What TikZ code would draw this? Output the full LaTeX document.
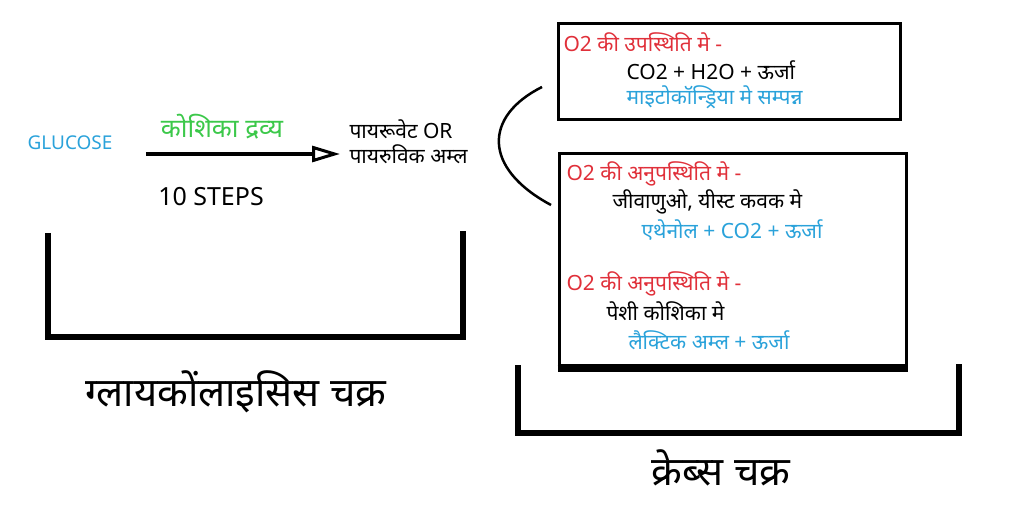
\documentclass[tikz,border=0pt]{standalone}
\usepackage{fontspec}
\setmainfont{Noto Sans}[Script=Devanagari]
\usepackage{tikz}
\usetikzlibrary{positioning,arrows.meta}
\definecolor{hred}{HTML}{E0303A}
\definecolor{hblue}{HTML}{2AA2DA}
\definecolor{hgreen}{HTML}{3CC84A}

\begin{document}
\begin{tikzpicture}[x=1pt, y=-1pt, line width=3pt,
    txt/.style={anchor=west, inner sep=0pt, font=\fontsize{21}{24}\selectfont},
    big/.style={inner sep=0pt, font=\fontsize{40}{44}\selectfont},
    cycle/.style={line width=6pt, line cap=butt},
    flow/.style={line width=3.5pt, -{Triangle[open, length=28pt, width=16pt, line width=3pt]}}]
    \useasboundingbox (0,0) rectangle (1024,510);

    % glycolysis
    \node[inner sep=0pt, text=hblue, font=\fontsize{19}{21}\selectfont] (glucose) at (70,143) {GLUCOSE};
    \node[anchor=west, inner sep=0pt, align=left, font=\fontsize{21}{25}\selectfont] (pyruvate) at (348,142) {पायरूवेट OR\\पायरुविक अम्ल};
    \node[inner sep=0pt, text=hgreen, font=\fontsize{26}{28}\selectfont] (cyto) at (222,127) {कोशिका द्रव्य};
    \node[inner sep=0pt, font=\fontsize{25}{27}\selectfont] (steps) at (211,197) {10 STEPS};
    \draw[flow] ([xshift=32pt, yshift=-11pt]glucose.east) -- ([xshift=-8pt, yshift=-12pt]pyruvate.west);

    \draw[cycle] (48,233) -- (48,337) -- (463,337) -- (463,231);
    \node[big] (glyLabel) at (236,392) {ग्लायकोंलाइसिस चक्र};

    % krebs
    \node[draw, line width=3pt, minimum width=342pt, minimum height=96pt, inner sep=0pt] (aerobic) at (729,72) {};
    \node[txt, text=hred] (a1) at (562,42) {O2 की उपस्थिति मे -};
    \node[txt] (a2) at (625,70) {CO2 + H2O + ऊर्जा};
    \node[txt, text=hblue] (a3) at (625,97) {माइटोकॉन्ड्रिया मे सम्पन्न};

    \node[draw, line width=3pt, minimum width=347pt, minimum height=211pt, inner sep=0pt] (anaerobic) at (732.5,259.5) {};
    \draw[line width=7pt] ([yshift=-2pt]anaerobic.south west) -- ([yshift=-2pt]anaerobic.south east);
    \node[txt, text=hred] (b1) at (565,174) {O2 की अनुपस्थिति मे -};
    \node[txt] (b2) at (611,202) {जीवाणुओ, यीस्ट कवक मे};
    \node[txt, text=hblue] (b3) at (640,230) {एथेनोल + CO2 + ऊर्जा};
    \node[txt, text=hred] (c1) at (565,284) {O2 की अनुपस्थिति मे -};
    \node[txt] (c2) at (605,311) {पेशी कोशिका मे};
    \node[txt, text=hblue] (c3) at (627,340) {लैक्टिक अम्ल + ऊर्जा};

    \coordinate (curveTop) at (542,87);
    \coordinate (curveBot) at (551,205);
    \draw[line width=2.5pt] (curveTop) .. controls (484,116) and (482,168) .. (curveBot);

    \draw[cycle] (518,365) -- (518,433) -- (959,433) -- (959,364);
    \node[big] (krebsLabel) at (721,468) {क्रेब्स चक्र};
\end{tikzpicture}
\end{document}
